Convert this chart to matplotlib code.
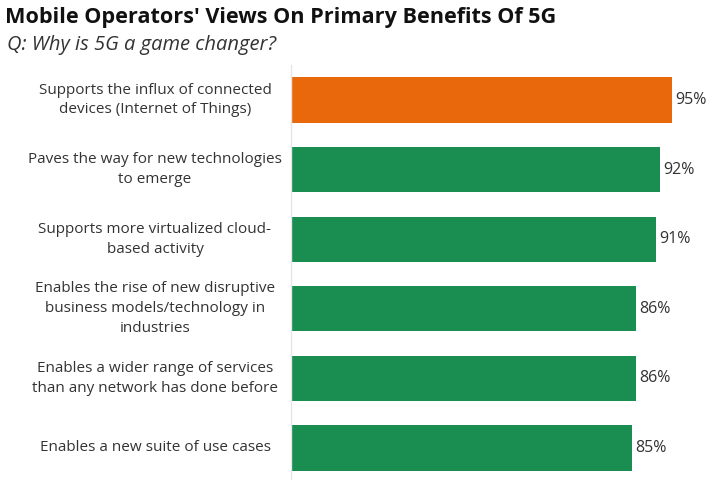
import matplotlib
matplotlib.use("Agg")
import matplotlib.pyplot as plt
from matplotlib.transforms import blended_transform_factory

categories = [
    "Supports the influx of connected\ndevices (Internet of Things)",
    "Paves the way for new technologies\nto emerge",
    "Supports more virtualized cloud-\nbased activity",
    "Enables the rise of new disruptive\nbusiness models/technology in\nindustries",
    "Enables a wider range of services\nthan any network has done before",
    "Enables a new suite of use cases",
]
values = [95, 92, 91, 86, 86, 85]
highlight = [True, False, False, False, False, False]

ORANGE = "#E9680C"
GREEN = "#1A8D50"
TEXT = "#333333"

plt.rcParams['font.family'] = ['Open Sans', 'DejaVu Sans']

fig = plt.figure(figsize=(7.2, 4.8), dpi=100)
ax = fig.add_axes([291/720, 0.0, 421/720, 1 - 65/480])

pos = list(range(len(values)))
colors = [ORANGE if h else GREEN for h in highlight]
ax.barh(pos, values, height=0.65, color=colors)
for p, v in zip(pos, values):
    ax.text(v + 0.8, p, f"{v}%", va="center", ha="left", fontsize=11.5, color=TEXT)

ax.set_xlim(0, 105)
ax.set_ylim(5.46, -0.503)
ax.set_xticks([])
ax.set_yticks([])
for s in ["top", "right", "bottom"]:
    ax.spines[s].set_visible(False)
ax.spines["left"].set_color("#e6e6e6")
ax.spines["left"].set_linewidth(1)

trans = blended_transform_factory(fig.transFigure, ax.transData)
for p, c in zip(pos, categories):
    ax.text(155/720, p, c, transform=trans, ha="center", va="center",
            fontsize=11, color=TEXT, linespacing=1.45)

fig.text(5/720, 1 - 18/480, "Mobile Operators' Views On Primary Benefits Of 5G",
         fontsize=15.6, fontweight="bold", color="#111111", va="center", ha="left")
fig.text(7/720, 1 - 45/480, "Q: Why is 5G a game changer?",
         fontsize=14.5, style="italic", color=TEXT, va="center", ha="left")

fig.savefig("out.png", dpi=100)
